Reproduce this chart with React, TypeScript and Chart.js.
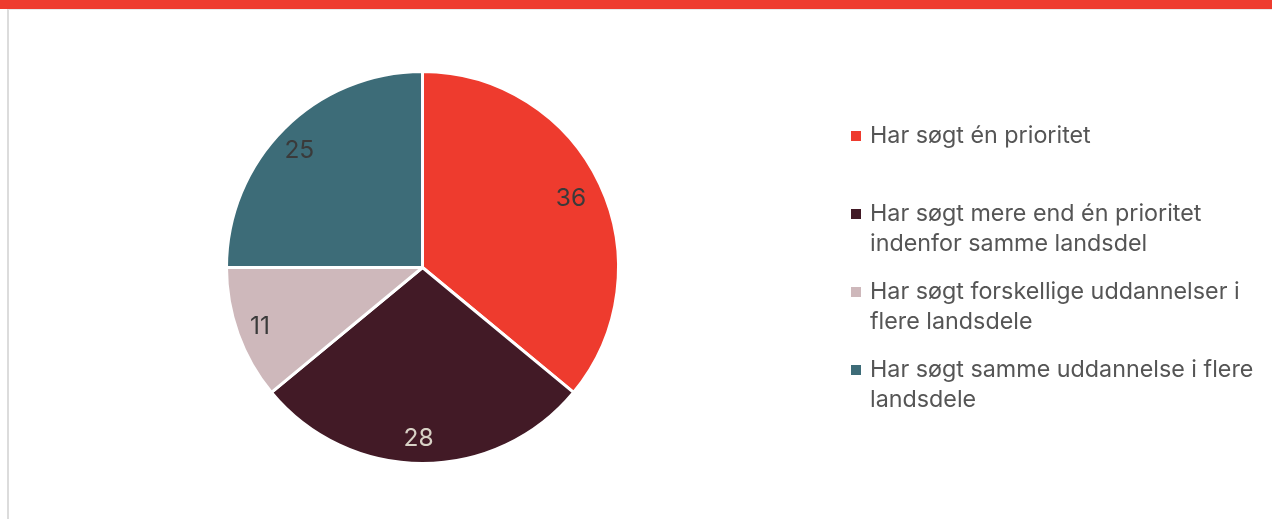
import React, { useEffect, useRef } from "react";
import { Chart, registerables } from "chart.js";

Chart.register(...registerables);

const categories: string[][] = [
  ["Har søgt én prioritet"],
  ["Har søgt mere end én prioritet", "indenfor samme landsdel"],
  ["Har søgt forskellige uddannelser i", "flere landsdele"],
  ["Har søgt samme uddannelse i flere", "landsdele"],
];
const values: number[] = [36, 28, 11, 25];
const colors: string[] = ["#EE3B2E", "#421A26", "#CEB8BB", "#3D6C78"];
const labelColors: string[] = ["#3a3a3a", "#d8d2c6", "#3a3a3a", "#3a3a3a"];

const FONT = "Inter, 'Noto Sans', sans-serif";

const valueLabelsPlugin = {
  id: "valueLabels",
  afterDatasetsDraw(chart: any) {
    const ctx = chart.ctx;
    const meta = chart.getDatasetMeta(0);
    ctx.save();
    ctx.font = `400 24.5px ${FONT}`;
    ctx.textAlign = "center";
    ctx.textBaseline = "middle";
    meta.data.forEach((arc: any, i: number) => {
      const { x, y, startAngle, endAngle, outerRadius } = arc.getProps(
        ["x", "y", "startAngle", "endAngle", "outerRadius"],
        true
      );
      const mid = (startAngle + endAngle) / 2;
      const r = outerRadius * 0.86;
      ctx.fillStyle = labelColors[i];
      ctx.fillText(String(values[i]), x + Math.cos(mid) * r - 4, y + Math.sin(mid) * r + 2.5);
    });
    ctx.restore();
  },
};

const legendPlugin = {
  id: "customLegend",
  afterDraw(chart: any) {
    const ctx = chart.ctx;
    ctx.save();
    ctx.font = `400 23.3px ${FONT}`;
    ctx.textAlign = "left";
    ctx.textBaseline = "middle";
    const boxX = 851;
    const textX = 870;
    const startY = 136;
    const itemStep = 78;
    const lineStep = 30;
    categories.forEach((lines, i) => {
      const y0 = startY + i * itemStep;
      ctx.fillStyle = colors[i];
      ctx.fillRect(boxX, y0 - 5, 10, 10);
      ctx.fillStyle = "#555555";
      lines.forEach((ln, j) => {
        ctx.fillText(ln, textX, y0 + j * lineStep);
      });
    });
    ctx.restore();
  },
};

export default function App() {
  const ref = useRef<HTMLCanvasElement | null>(null);
  useEffect(() => {
    if (!ref.current) return;
    const chart = new Chart(ref.current, {
      type: "pie",
      data: {
        labels: categories.map((c) => c.join(" ")),
        datasets: [
          {
            data: values,
            backgroundColor: colors,
            borderColor: "#ffffff",
            borderWidth: 3,
          },
        ],
      },
      options: {
        animation: false,
        responsive: false,
        maintainAspectRatio: false,
        layout: { padding: { left: 225, right: 652, top: 70, bottom: 54 } },
        plugins: {
          legend: { display: false },
          tooltip: { enabled: false },
        },
      },
      plugins: [valueLabelsPlugin, legendPlugin],
    });
    return () => chart.destroy();
  }, []);

  return (
    <div style={{ position: "absolute", left: 0, top: 0, width: 1272, height: 519, background: "#fff", overflow: "hidden" }}>
      <div style={{ position: "absolute", left: 0, top: 0, width: 1272, height: 9, background: "#EE3B2E" }} />
      <div
        style={{
          position: "absolute",
          left: 7,
          top: 9,
          width: 1265,
          height: 510,
          boxSizing: "border-box",
          borderLeft: "2px solid #dcdcdc",
          borderTop: "1px solid #e8e8e8",
        }}
      />
      <canvas ref={ref} width={1272} height={519} style={{ position: "absolute", left: 0, top: 0, width: 1272, height: 519 }} />
    </div>
  );
}
